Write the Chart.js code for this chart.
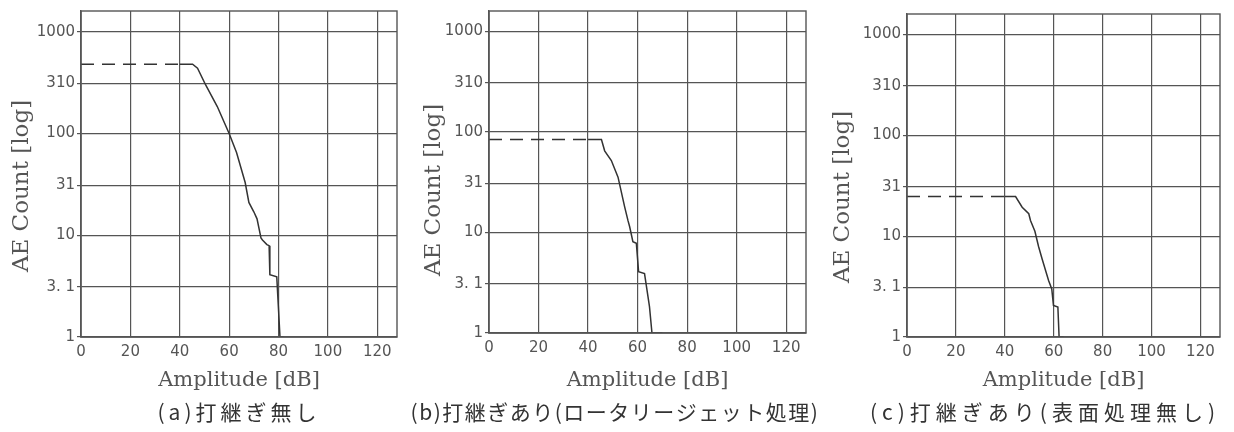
<!DOCTYPE html>
<html lang="ja">
<head>
<meta charset="UTF-8">
<title>AE Count vs Amplitude</title>
<script src="https://cdn.jsdelivr.net/npm/chart.js@4/dist/chart.umd.min.js"></script>
<style>
    body { margin: 0; background: #fff; }
    #wrap { position: relative; width: 1234px; height: 432px; overflow: hidden; }
    canvas { position: absolute; top: 0; left: 0; }
</style>
</head>
<body>
<div id="wrap">
    <canvas id="chartA" width="1234" height="432"></canvas>
    <canvas id="chartB" width="1234" height="432"></canvas>
    <canvas id="chartC" width="1234" height="432"></canvas>
</div>

<script>
// axis ticks
const xTicks = [0, 20, 40, 60, 80, 100, 120];
const yTicks = [1, 3.1, 10, 31, 100, 310, 1000];
const yTickLabels = ['1', '3. 1', '10', '31', '100', '310', '1000'];

// (a) 打継ぎ無し
const dashAmpA = [0, 40];
const dashCountA = [480, 480];
const ampA = [40, 45.2, 47.2, 50.5, 55.2, 60, 63, 66.5, 68, 70, 71.3, 72.9, 73.5, 75.3, 76.2, 76.5, 79.3, 80.6, 82];
const countA = [480, 480, 439, 300, 184, 100, 65, 33, 21, 17, 14.5, 9.4, 9, 8.1, 7.9, 4.1, 3.9, 1, 1];

// (b) 打継ぎあり(ロータリージェット処理)
const dashAmpB = [0, 40];
const dashCountB = [84, 84];
const ampB = [40, 45.4, 46.7, 49.4, 52.1, 54.8, 56.1, 56.8, 58.1, 59.5, 60.4, 62.8, 64.8, 65.8, 70];
const countB = [84, 84, 65, 52, 35.5, 17.9, 13.2, 11.4, 8.1, 7.8, 4.07, 3.9, 1.83, 1, 1];

// (c) 打継ぎあり(表面処理無し)
const dashAmpC = [0, 40];
const dashCountC = [24.7, 24.7];
const ampC = [40, 44.4, 47.1, 49.8, 50.5, 52.3, 53.8, 55.2, 57.9, 59.2, 59.9, 61.7, 62.2, 64];
const countC = [24.7, 24.7, 19.4, 16.7, 14.3, 11.2, 7.9, 6.0, 3.64, 3.0, 2.06, 1.98, 1, 1];

const captions = ['(a)打継ぎ無し', '(b)打継ぎあり(ロータリージェット処理)', '(c)打継ぎあり(表面処理無し)'];

const ink = '#333';
const gridInk = '#555';

// plot box border (top/right sides too)
const frame = {
    id: 'frame',
    afterDraw(chart) {
        const {ctx, chartArea: a} = chart;
        ctx.save();
        ctx.strokeStyle = gridInk;
        ctx.lineWidth = 1.4;
        ctx.strokeRect(a.left, a.top, a.right - a.left, a.bottom - a.top);
        ctx.restore();
    }
};

// rotated y-axis title and spaced-out caption, placed where the scan has them
const labels = {
    id: 'labels',
    afterDraw(chart, args, opts) {
        const ctx = chart.ctx;
        ctx.save();
        ctx.translate(opts.yx, opts.yy);
        ctx.rotate(-Math.PI / 2);
        ctx.font = '23px "DejaVu Serif"';
        ctx.fillStyle = '#555';
        ctx.textAlign = 'center';
        ctx.textBaseline = 'middle';
        ctx.fillText(opts.yText, 0, 0);
        ctx.restore();

        ctx.save();
        ctx.font = '21px "Noto Sans CJK JP"';
        ctx.letterSpacing = opts.spacing + 'px';
        ctx.fillStyle = '#333';
        ctx.textAlign = 'center';
        ctx.textBaseline = 'middle';
        ctx.fillText(opts.caption, opts.cx, 412);
        ctx.restore();
    }
};

const toPoints = (xs, ys) => xs.map((x, i) => ({x: x, y: ys[i]}));

function makePanel(id, dashX, dashY, ampX, countY, caption, box) {
    return new Chart(id, {
        type: 'line',
        data: {
            datasets: [{
                data: toPoints(dashX, dashY),
                borderColor: ink,
                borderWidth: 1.5,
                borderDash: [13, 8],
                pointRadius: 0
            }, {
                data: toPoints(ampX, countY),
                borderColor: ink,
                borderWidth: 1.5,
                pointRadius: 0
            }]
        },
        options: {
            responsive: false,
            animation: false,
            layout: { padding: { left: box.left - box.yW, right: 1234 - box.right, top: box.top, bottom: 33 } },
            plugins: {
                legend: { display: false },
                tooltip: { enabled: false },
                labels: { yText: 'AE Count [log]', yx: box.labelX, yy: box.labelY,
                          caption: caption, cx: box.capX, spacing: box.spacing }
            },
            scales: {
                x: {
                    type: 'linear',
                    min: 0,
                    max: 128,
                    afterBuildTicks: s => { s.ticks = xTicks.map(v => ({value: v})); },
                    afterFit: s => { s.height = 399 - box.bottom; },
                    grid: { color: gridInk, lineWidth: 1.2, drawTicks: false },
                    border: { color: gridInk, width: 1.4 },
                    ticks: { color: '#555', padding: 6, font: { family: '"DejaVu Sans"', size: 15 }, maxRotation: 0 },
                    title: {
                        display: true,
                        text: 'Amplitude [dB]',
                        color: '#555',
                        font: { family: '"DejaVu Serif"', size: 21 },
                        padding: { top: 0, bottom: 6 }
                    }
                },
                y: {
                    type: 'logarithmic',
                    min: 1,
                    max: 1600,
                    afterBuildTicks: s => { s.ticks = yTicks.map(v => ({value: v})); },
                    afterFit: s => { s.width = box.yW; },
                    grid: { color: gridInk, lineWidth: 1.2, tickLength: 4 },
                    border: { color: gridInk, width: 1.4 },
                    ticks: {
                        color: '#555',
                        padding: 2,
                        font: { family: '"DejaVu Sans"', size: 15 },
                        callback: v => yTickLabels[yTicks.indexOf(v)]
                    }
                }
            }
        },
        plugins: [frame, labels]
    });
}

makePanel('chartA', dashAmpA, dashCountA, ampA, countA, captions[0],
    { left: 81, right: 397, yW: 60, top: 11, bottom: 337, labelX: 22, labelY: 186, capX: 239, spacing: 4 });
makePanel('chartB', dashAmpB, dashCountB, ampB, countB, captions[1],
    { left: 489, right: 806, yW: 60, top: 10, bottom: 333, labelX: 434, labelY: 190, capX: 615, spacing: 1.5 });
makePanel('chartC', dashAmpC, dashCountC, ampC, countC, captions[2],
    { left: 907, right: 1220, yW: 60, top: 14, bottom: 337, labelX: 843, labelY: 197, capX: 1045, spacing: 5 });
</script>
</body>
</html>
